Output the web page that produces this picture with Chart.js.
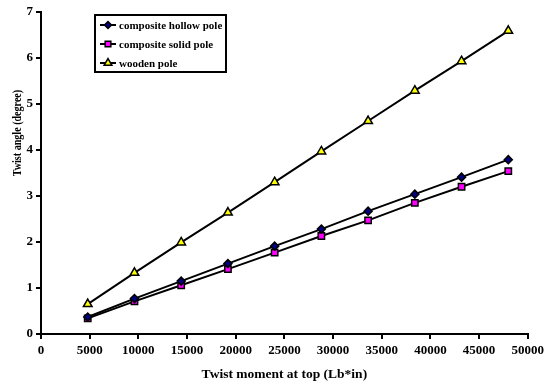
<!DOCTYPE html>
<html>
<head>
<meta charset="utf-8">
<script src="https://cdn.jsdelivr.net/npm/chart.js@4/dist/chart.umd.min.js"></script>
<style>
  html, body { margin: 0; padding: 0; background: #fff; }
  #wrap { width: 548px; height: 387px; }
</style>
</head>
<body>
<div id="wrap"><canvas id="chart" width="548" height="387"></canvas></div>
<script>
const moments = [4800, 9600, 14400, 19200, 24000, 28800, 33600, 38400, 43200, 48000];
const hollowPole = [0.37, 0.77, 1.15, 1.53, 1.91, 2.28, 2.67, 3.04, 3.41, 3.79];
const solidPole = [0.34, 0.71, 1.06, 1.41, 1.77, 2.13, 2.47, 2.85, 3.20, 3.54];
const woodenPole = [0.65, 1.33, 1.99, 2.64, 3.30, 3.97, 4.63, 5.29, 5.93, 6.59];

const seriesNames = ['composite hollow pole', 'composite solid pole', 'wooden pole'];
const yTitle = 'Twist angle (degree)';
const xTitle = 'Twist moment at top (Lb*in)';
const serif = '"Liberation Serif", "Times New Roman", Times, serif';

const toPoints = vals => vals.map((v, i) => ({ x: moments[i], y: v }));

function makeSet(label, vals, style, fill, radius) {
    return {
        label, data: toPoints(vals),
        borderColor: '#000', borderWidth: 2,
        pointStyle: style, pointRadius: radius, pointHoverRadius: radius,
        pointBackgroundColor: fill, pointBorderColor: '#000', pointBorderWidth: 1.5,
        tension: 0
    };
}

// legend box drawn inside the plot, like the original
const boxLegend = {
    id: 'boxLegend',
    afterDraw(chart) {
        const ctx = chart.ctx;
        const x = 95, y = 15, w = 131, h = 57;
        ctx.save();
        ctx.fillStyle = '#fff';
        ctx.fillRect(x, y, w, h);
        ctx.strokeStyle = '#000';
        ctx.lineWidth = 2;
        ctx.strokeRect(x, y, w, h);
        ctx.font = 'bold 11px ' + serif;
        ctx.textBaseline = 'middle';
        chart.data.datasets.forEach((ds, i) => {
            const cy = y + 10 + i * 19;
            ctx.strokeStyle = '#000';
            ctx.lineWidth = 2;
            ctx.beginPath();
            ctx.moveTo(x + 5, cy);
            ctx.lineTo(x + 21, cy);
            ctx.stroke();
            ctx.fillStyle = ds.pointBackgroundColor;
            ctx.strokeStyle = '#000';
            ctx.lineWidth = 1.5;
            Chart.helpers.drawPoint(ctx, { pointStyle: ds.pointStyle, radius: ds.pointRadius - 0.5, borderWidth: 1.5 }, x + 13, cy);
            ctx.fillStyle = '#000';
            ctx.fillText(ds.label, x + 24, cy + 1);
        });
        // y axis title sits above the middle of the axis in the original
        ctx.translate(18, 133);
        ctx.rotate(-Math.PI / 2);
        ctx.scale(0.84, 1);
        ctx.font = 'bold 12px ' + serif;
        ctx.textAlign = 'center';
        ctx.fillText(yTitle, 0, 0);
        ctx.restore();
    }
};

new Chart(document.getElementById('chart').getContext('2d'), {
    type: 'line',
    data: {
        datasets: [
            makeSet(seriesNames[0], hollowPole, 'rectRot', '#000080', 4),
            makeSet(seriesNames[1], solidPole, 'rect', '#ff00ff', 4.5),
            makeSet(seriesNames[2], woodenPole, 'triangle', '#ffff00', 5)
        ]
    },
    options: {
        responsive: false, animation: false,
        layout: { padding: { top: 12, right: 13, left: 0, bottom: 0 } },
        plugins: { legend: { display: false }, tooltip: { enabled: false } },
        scales: {
            x: {
                type: 'linear', min: 0, max: 50000,
                afterFit: s => { s.height = 53; },
                ticks: { stepSize: 5000, color: '#000', font: { family: serif, weight: 'bold', size: 13 }, maxRotation: 0, padding: 4, callback: v => String(v) },
                grid: { drawOnChartArea: false, drawTicks: true, tickLength: 5, color: '#000', lineWidth: 2 },
                border: { color: '#000', width: 2 },
                title: { display: true, text: xTitle, color: '#000', font: { family: serif, weight: 'bold', size: 13.5 }, padding: { top: 6 } }
            },
            y: {
                min: 0, max: 7,
                afterFit: s => { s.width = 41; },
                ticks: { stepSize: 1, color: '#000', font: { family: serif, weight: 'bold', size: 13 }, padding: 3 },
                grid: { drawOnChartArea: false, drawTicks: true, tickLength: 5, color: '#000', lineWidth: 2 },
                border: { color: '#000', width: 2 }
            }
        }
    },
    plugins: [boxLegend]
});
</script>
</body>
</html>
